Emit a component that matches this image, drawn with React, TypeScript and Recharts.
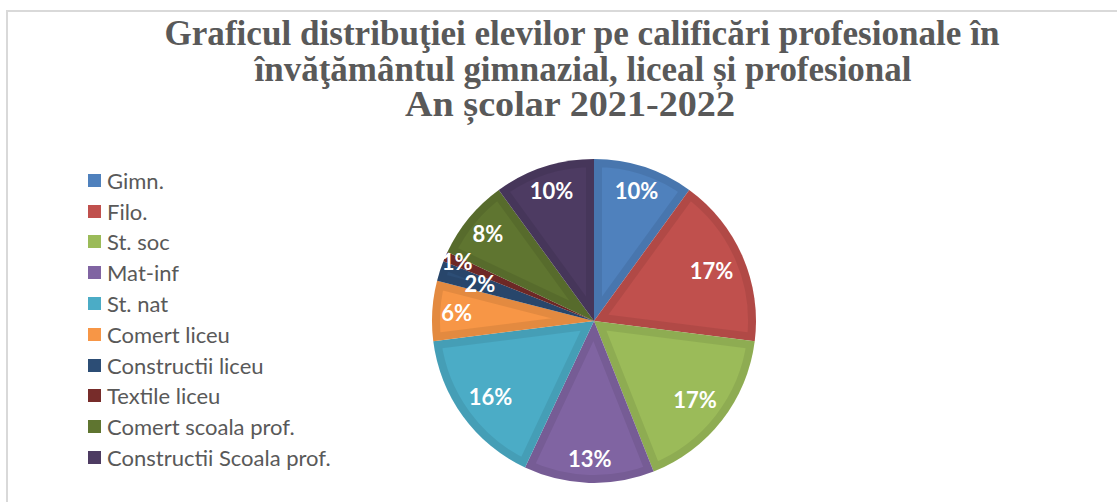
import React from 'react';
import { PieChart, Pie, Cell, Sector } from 'recharts';

const categories = [
  'Gimn.',
  'Filo.',
  'St. soc',
  'Mat-inf',
  'St. nat',
  'Comert liceu',
  'Constructii liceu',
  'Textile liceu',
  'Comert scoala prof.',
  'Constructii Scoala prof.',
];
const shares = [10, 17, 17, 13, 16, 6, 2, 1, 8, 10];
const COLORS = [
  '#4F81BD', '#C0504D', '#9BBB59', '#8064A2', '#4BACC6',
  '#F79646', '#2C4D75', '#772C2A', '#5F7530', '#4D3B62',
];
const titleLines = [
  'Graficul distribuţiei elevilor pe calificări profesionale în',
  'învăţământul gimnazial, liceal și profesional',
  'An școlar 2021-2022',
];

const data = categories.map((name, i) => ({ name, value: shares[i] }));

const W = 1117;
const H = 502;
const RADIAN = Math.PI / 180;

// slice with a darker inset edge, like the Excel bevel
const BevelSector = (props: any) => {
  const id = `clip-slice-${props.index}`;
  return (
    <g>
      <defs>
        <clipPath id={id}>
          <Sector {...props} stroke="none" />
        </clipPath>
      </defs>
      <Sector {...props} stroke="none" />
      <Sector
        {...props}
        fill="none"
        stroke="#000"
        strokeOpacity={0.08}
        strokeWidth={16}
        clipPath={`url(#${id})`}
      />
    </g>
  );
};

const renderLabel = (props: any) => {
  const { cx, cy, midAngle, outerRadius, value, index } = props;
  // tiny slices get staggered so their labels don't collide
  let k = value >= 15 ? 0.79 : 0.85;
  if (value < 3) k = index % 2 ? 0.92 : 0.74;
  const r = outerRadius * k;
  const x = cx + r * Math.cos(-midAngle * RADIAN);
  const y = cy + r * Math.sin(-midAngle * RADIAN);
  return (
    <text
      x={x}
      y={y}
      fill="#fff"
      textAnchor="middle"
      dominantBaseline="central"
      fontFamily="Lato, 'Open Sans', sans-serif"
      fontWeight={700}
      fontSize={22}
    >
      {`${value}%`}
    </text>
  );
};

export default function App() {
  return (
    <div style={{ position: 'fixed', left: 0, top: 0, width: W, height: H, background: '#fff', overflow: 'hidden' }}>
      <PieChart width={W} height={H} margin={{ top: 0, right: 0, bottom: 0, left: 0 }}>
        <Pie
          data={data}
          dataKey="value"
          nameKey="name"
          cx={594}
          cy={321}
          outerRadius={162}
          startAngle={90}
          endAngle={-270}
          stroke="none"
          shape={BevelSector}
          label={renderLabel}
          labelLine={false}
          isAnimationActive={false}
        >
          {data.map((d, i) => (
            <Cell key={d.name} fill={COLORS[i]} />
          ))}
        </Pie>
      </PieChart>
      <ul style={{ position: 'absolute', left: 88, top: 165, listStyle: 'none', margin: 0, padding: 0 }}>
        {categories.map((name, i) => (
          <li
            key={name}
            style={{ display: 'flex', alignItems: 'center', height: 30.8, whiteSpace: 'nowrap' }}
          >
            <span style={{ width: 13, height: 13, background: COLORS[i], marginRight: 6, display: 'inline-block' }} />
            <span style={{ color: '#595959', fontSize: 22, fontFamily: "Lato, 'Open Sans', sans-serif" }}>{name}</span>
          </li>
        ))}
      </ul>
      <svg width={W} height={H} style={{ position: 'absolute', left: 0, top: 0, pointerEvents: 'none' }}>
        <path d={`M7 ${H} V11 H${W}`} fill="none" stroke="#d9d9d9" strokeWidth={2} />
        {titleLines.map((line, i) => (
          <text
            key={i}
            x={[582, 583, 570][i]}
            y={45 + i * 35.5}
            textAnchor="middle"
            fill="#595959"
            fontFamily="'Liberation Serif', serif"
            fontWeight={700}
            fontSize={35}
            textLength={[835, 657, 330][i]}
            lengthAdjust="spacingAndGlyphs"
          >
            {line}
          </text>
        ))}
      </svg>
    </div>
  );
}
